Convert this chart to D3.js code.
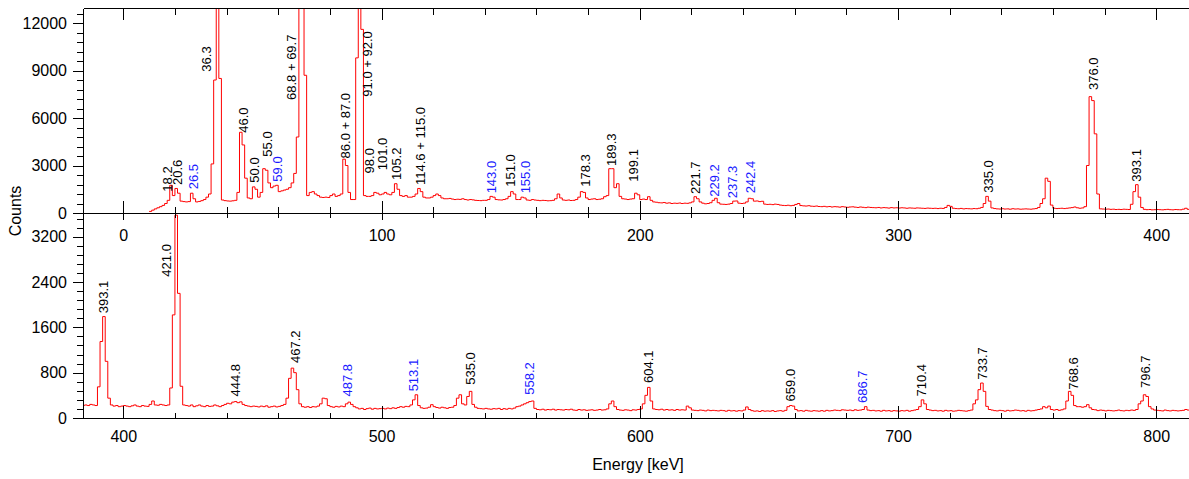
<!DOCTYPE html>
<html>
<head>
<meta charset="utf-8">
<script src="https://cdn.jsdelivr.net/npm/d3@7"></script>
<style>
  body { margin: 0; background: #fff; }
  svg { display: block; font-family: "Liberation Sans", Arial, Helvetica, sans-serif; }
  .axis text { font-size: 16px; fill: #000; }
  .axis path, .axis line { stroke: #000; shape-rendering: crispEdges; }
  .peak { font-size: 13px; }
</style>
</head>
<body>
<div id="chart"></div>
<script>

// spectrum, 1 keV bins, first bin starts at 10 keV
var firstBin = 10;
var counts10 = [
  100, 180, 260, 330, 400, 480, 600, 800, 1750, 1100,
  1550, 1250, 750, 720, 700, 720, 1250, 900, 700, 730,
  780, 850, 1000, 1200, 3100, 8400, 30000, 8500, 820, 780,
  760, 750, 770, 800, 1300, 5100, 4300, 2200, 950, 900,
  1650, 1500, 1000, 1300, 2800, 2700, 1900, 1600, 1700, 1750,
  1350, 1400, 1450, 1500, 1600, 1900, 2500, 4800, 14000, 40000,
  8700, 1100, 1300, 1350, 1200, 1100, 1000, 980, 1000, 980,
  1100, 1200, 1050, 1100, 1200, 3400, 3000, 1300, 850, 850,
  9800, 40000, 11600, 1100, 1050, 1050, 1100, 1300, 1250, 1150
];
var counts100 = [
  1200, 1300, 1200, 1150, 1300, 1850, 1500, 1100, 1050, 1100,
  1000, 1000, 1050, 1200, 1550, 1350, 1000, 950, 950, 1000,
  1100, 1200, 1100, 950, 900, 900, 920, 880, 850, 870,
  860, 900, 850, 820, 850, 830, 800, 790, 780, 800,
  800, 850, 1050, 1000, 850, 830, 820, 850, 900, 1050,
  1350, 1200, 850, 850, 1000, 950, 820, 800, 850, 820,
  800, 780, 800, 790, 770, 780, 800, 900, 1200, 950,
  820, 800, 820, 790, 800, 850, 1000, 1350, 1300, 950,
  850, 880, 900, 850, 870, 900, 1030, 1100, 2800, 2800,
  1600, 1850, 1050, 900, 880, 850, 880, 900, 1250, 1150,
  850, 880, 850, 1030, 800, 700, 680, 650, 640, 660,
  620, 640, 600, 620, 610, 630, 600, 620, 610, 640,
  700, 1030, 900, 700, 620, 580, 600, 650, 800, 930,
  650, 560, 550, 540, 560, 600, 750, 760, 620, 600,
  620, 700, 930, 900, 750, 760, 720, 740, 560, 540
];
var counts250 = [
  550, 530, 560, 540, 500, 480, 470, 490, 460, 480,
  540, 600, 470, 450, 440, 460, 430, 420, 440, 410,
  400, 420, 390, 410, 380, 400, 390, 370, 400, 380,
  360, 380, 390, 370, 350, 380, 360, 340, 370, 350,
  340, 330, 350, 320, 340, 330, 310, 340, 320, 330,
  310, 330, 320, 300, 320, 310, 300, 320, 310, 300,
  290, 310, 300, 290, 300, 280, 300, 290, 350, 480,
  420, 300, 280, 270, 290, 260, 280, 270, 260, 280,
  270, 300, 350, 600, 1050, 750, 320, 280, 260, 250,
  270, 250, 260, 240, 270, 250, 260, 240, 250, 260,
  250, 240, 260, 280, 350, 600, 900, 2200, 2000, 500,
  300, 280, 290, 300, 280, 300, 320, 340, 380, 330,
  300, 320, 400, 3000, 7350, 7100, 5000, 1200, 260, 250,
  240, 250, 230, 240, 220, 230, 220, 240, 230, 220,
  550, 1350, 1790, 1000, 350, 230, 210, 220, 200, 210
];
var counts400 = [
  220, 210, 200, 215, 230, 210, 200, 220, 210, 205,
  240, 300, 230, 225, 240, 230, 220, 230, 530, 1820,
  3580, 2200, 560, 230, 220, 210, 230, 200, 215, 230,
  210, 200, 220, 205, 210, 230, 215, 200, 220, 240,
  260, 250, 280, 290, 270, 285, 240, 220, 210, 200,
  210, 205, 195, 210, 200, 215, 190, 200, 210, 195,
  205, 220, 240, 350, 700, 880, 800, 500, 250, 200,
  190, 200, 185, 200, 195, 210, 250, 350, 340, 220,
  200, 190, 205, 195, 210, 200, 250, 280, 240, 200,
  180, 160, 170, 150, 165, 175, 155, 170, 160, 165,
  170, 160, 175, 165, 180, 170, 185, 200, 190, 205,
  200, 230, 320, 410, 220, 180, 170, 175, 190, 235,
  200, 185, 175, 190, 180, 170, 185, 190, 220, 350,
  410, 250, 230, 380, 470, 240, 190, 170, 165, 160,
  170, 160, 155, 165, 160, 170, 150, 165, 155, 170
];
var counts550 = [
  160, 175, 200, 210, 230, 250, 270, 290, 300, 170,
  150, 145, 155, 140, 150, 145, 155, 140, 150, 145,
  140, 150, 145, 155, 140, 135, 150, 140, 145, 135,
  140, 145, 135, 140, 150, 140, 145, 160, 250, 300,
  200, 150, 140, 135, 145, 140, 130, 145, 140, 150,
  160, 250, 400, 540, 300, 160, 150, 145, 155, 140,
  150, 140, 145, 135, 150, 140, 145, 140, 210, 180,
  140, 135, 130, 140, 135, 125, 140, 130, 135, 130,
  125, 135, 130, 120, 135, 125, 130, 120, 130, 125,
  140, 195, 150, 130, 120, 125, 115, 130, 120, 125,
  120, 130, 115, 125, 130, 120, 135, 200, 220, 210,
  150, 125, 130, 120, 135, 125, 120, 130, 125, 120,
  130, 120, 135, 125, 130, 140, 135, 130, 145, 140,
  135, 140, 130, 145, 135, 140, 150, 200, 140, 130,
  135, 125, 130, 120, 135, 125, 130, 120, 130, 125
];
var counts700 = [
  120, 130, 125, 135, 120, 130, 140, 150, 200, 320,
  250, 150, 140, 130, 135, 125, 130, 120, 135, 125,
  130, 120, 125, 135, 130, 125, 120, 130, 140, 250,
  320, 500, 617, 470, 205, 150, 140, 130, 125, 135,
  130, 120, 135, 125, 130, 140, 135, 125, 130, 120,
  135, 125, 130, 140, 150, 160, 200, 180, 210, 150,
  140, 150, 135, 145, 160, 300, 470, 400, 220, 200,
  200, 190, 200, 235, 180, 150, 145, 130, 140, 135,
  125, 135, 130, 125, 130, 140, 130, 125, 135, 130,
  140, 135, 150, 250, 300, 410, 380, 200, 160, 140,
  135, 130, 125, 140, 130, 125, 135, 130, 125, 130,
  135, 150, 140
];

var topTicks = [0, 3000, 6000, 9000, 12000];
var bottomTicks = [0, 800, 1600, 2400, 3200];
var topEnergyTicks = [0, 100, 200, 300, 400];
var bottomEnergyTicks = [400, 500, 600, 700, 800];

// peak labels: text, energy where drawn, counts where text starts, blue?
var topLabels = [
  ["18.2", 17.1, 1350, 0], ["20.6", 21.1, 1770, 0], ["26.5", 27.1, 1500, 1],
  ["36.3", 32.3, 8930, 0], ["46.0", 46.5, 5070, 0], ["50.0", 50.6, 1915, 0],
  ["55.0", 55.8, 3560, 0], ["59.0", 59.7, 1980, 1], ["68.8 + 69.7", 65.1, 7140, 0],
  ["86.0 + 87.0", 85.9, 3450, 0], ["91.0 + 92.0", 94.6, 7350, 0], ["98.0", 95.2, 2500, 0],
  ["101.0", 100.4, 2700, 0], ["105.2", 105.9, 2080, 0], ["114.6 + 115.0", 115.2, 1770, 0],
  ["143.0", 142.7, 1240, 1], ["151.0", 149.8, 1660, 0], ["155.0", 155.6, 1240, 1],
  ["178.3", 178.8, 1660, 0], ["189.3", 189.2, 2970, 0], ["199.1", 197.5, 1980, 0],
  ["221.7", 221.4, 1200, 0], ["229.2", 228.8, 1030, 1], ["237.3", 235.9, 930, 1],
  ["242.4", 242.7, 1240, 1], ["335.0", 334.9, 1280, 0], ["376.0", 375.7, 7770, 0],
  ["393.1", 392.5, 1980, 0]
];
var bottomLabels = [
  ["393.1", 392.3, 1850, 0], ["421.0", 416.8, 2495, 0], ["444.8", 443.3, 380, 0],
  ["467.2", 466.5, 970, 0], ["487.8", 486.8, 380, 1], ["513.1", 512.3, 470, 1],
  ["535.0", 534.3, 587, 0], ["558.2", 557.2, 411, 1], ["604.1", 603.3, 617, 0],
  ["659.0", 658.2, 293, 0], ["686.7", 686.3, 264, 1], ["710.4", 709.2, 380, 0],
  ["733.7", 732.8, 675, 0], ["768.6", 767.9, 499, 0], ["796.7", 795.7, 528, 0]
];

var width = 1189, height = 479;
var plotLeft = 83, plotTop = 8, plotMid = 213, plotBottom = 418;

var spectrum = [].concat(counts10, counts100, counts250, counts400, counts550, counts700)
  .map(function(c, i) { return { e: firstBin + i, c: c }; });
// closing point for the last step
spectrum.push({ e: firstBin + spectrum.length, c: spectrum[spectrum.length - 1].c });

var svg = d3.select("#chart").append("svg")
  .attr("width", width)
  .attr("height", height);

var xTop = d3.scaleLinear().domain([-15.6, 412.7]).range([plotLeft, width]);
var xBot = d3.scaleLinear().domain([384.4, 812.7]).range([plotLeft, width]);
var yTop = d3.scaleLinear().domain([0, 12950]).range([plotMid, plotTop]);
var yBot = d3.scaleLinear().domain([0, 3618]).range([plotBottom, plotMid]);

var fmt = d3.format("d");

function minorTicks(step, lo, hi, skip) {
  var out = [];
  for (var v = lo; v <= hi + 1e-9; v += step) {
    if (Math.abs(v % skip) > 1e-9) out.push(v);
  }
  return out;
}

var defs = svg.append("defs");
defs.append("clipPath").attr("id", "clipTop").append("rect")
  .attr("x", plotLeft).attr("y", plotTop).attr("width", width - plotLeft).attr("height", plotMid - plotTop);
defs.append("clipPath").attr("id", "clipBot").append("rect")
  .attr("x", plotLeft).attr("y", plotMid).attr("width", width - plotLeft).attr("height", plotBottom - plotMid);

function drawPanel(x, y, clip, labels) {
  var line = d3.line()
    .curve(d3.curveStepAfter)
    .x(function(d) { return x(d.e); })
    .y(function(d) { return y(d.c); });

  svg.append("path")
    .datum(spectrum)
    .attr("clip-path", "url(#" + clip + ")")
    .attr("fill", "none")
    .attr("stroke", "#ff0000")
    .attr("stroke-width", 1)
    .attr("d", line);

  svg.append("g")
    .selectAll("text")
    .data(labels)
    .enter()
    .append("text")
    .attr("class", "peak")
    .attr("transform", function(d) { return "translate(" + x(d[1]) + "," + y(d[2]) + ") rotate(-90)"; })
    .attr("dy", "0.35em")
    .attr("fill", function(d) { return d[3] ? "#1a1aff" : "#000"; })
    .text(function(d) { return d[0]; });
}

drawPanel(xTop, yTop, "clipTop", topLabels);
drawPanel(xBot, yBot, "clipBot", bottomLabels);

// y axes
svg.append("g").attr("class", "axis").attr("transform", "translate(" + plotLeft + ",0)")
  .call(d3.axisLeft(yTop).tickValues(minorTicks(600, 0, 12600, 3000)).tickSize(6).tickSizeOuter(0).tickFormat(""));
svg.append("g").attr("class", "axis").attr("transform", "translate(" + plotLeft + ",0)")
  .call(d3.axisLeft(yTop).tickValues(topTicks).tickSize(10).tickSizeOuter(0).tickPadding(6).tickFormat(fmt));
svg.append("g").attr("class", "axis").attr("transform", "translate(" + plotLeft + ",0)")
  .call(d3.axisLeft(yBot).tickValues(minorTicks(160, 0, 3520, 800)).tickSize(6).tickSizeOuter(0).tickFormat(""));
svg.append("g").attr("class", "axis").attr("transform", "translate(" + plotLeft + ",0)")
  .call(d3.axisLeft(yBot).tickValues(bottomTicks).tickSize(10).tickSizeOuter(0).tickPadding(6).tickFormat(fmt));

// top frame of upper panel
svg.append("g").attr("class", "axis").attr("transform", "translate(0," + plotTop + ")")
  .call(d3.axisTop(xTop).tickValues(minorTicks(20, 0, 400, 100)).tickSize(-7).tickSizeOuter(0).tickFormat(""));
svg.append("g").attr("class", "axis").attr("transform", "translate(0," + plotTop + ")")
  .call(d3.axisTop(xTop).tickValues(topEnergyTicks).tickSize(-12).tickSizeOuter(0).tickFormat(""));

// shared middle line: upper panel axis (ticks up) and lower panel frame (ticks down)
svg.append("g").attr("class", "axis").attr("transform", "translate(0," + plotMid + ")")
  .call(d3.axisBottom(xTop).tickValues(minorTicks(20, 0, 400, 100)).tickSize(-6).tickSizeOuter(0).tickFormat(""));
svg.append("g").attr("class", "axis").attr("transform", "translate(0," + plotMid + ")")
  .call(d3.axisBottom(xTop).tickValues(topEnergyTicks).tickSize(-12).tickSizeOuter(0).tickPadding(17).tickFormat(fmt));
svg.append("g").attr("class", "axis").attr("transform", "translate(0," + plotMid + ")")
  .call(d3.axisTop(xBot).tickValues(minorTicks(20, 400, 800, 100)).tickSize(-5).tickSizeOuter(0).tickFormat(""));
svg.append("g").attr("class", "axis").attr("transform", "translate(0," + plotMid + ")")
  .call(d3.axisTop(xBot).tickValues(bottomEnergyTicks).tickSize(-7).tickSizeOuter(0).tickFormat(""));

// bottom axis
svg.append("g").attr("class", "axis").attr("transform", "translate(0," + plotBottom + ")")
  .call(d3.axisBottom(xBot).tickValues(minorTicks(20, 400, 800, 100)).tickSize(-5).tickSizeOuter(0).tickFormat(""));
svg.append("g").attr("class", "axis").attr("transform", "translate(0," + plotBottom + ")")
  .call(d3.axisBottom(xBot).tickValues(bottomEnergyTicks).tickSize(-12).tickSizeOuter(0).tickPadding(13).tickFormat(fmt));

svg.selectAll(".axis .tick line").attr("stroke", "#000");

svg.append("text")
  .attr("transform", "translate(21,211) rotate(-90)")
  .attr("text-anchor", "middle")
  .attr("font-size", "16px")
  .text("Counts");

svg.append("text")
  .attr("x", 638)
  .attr("y", 470)
  .attr("text-anchor", "middle")
  .attr("font-size", "16px")
  .text("Energy [keV]");

</script>
</body>
</html>
